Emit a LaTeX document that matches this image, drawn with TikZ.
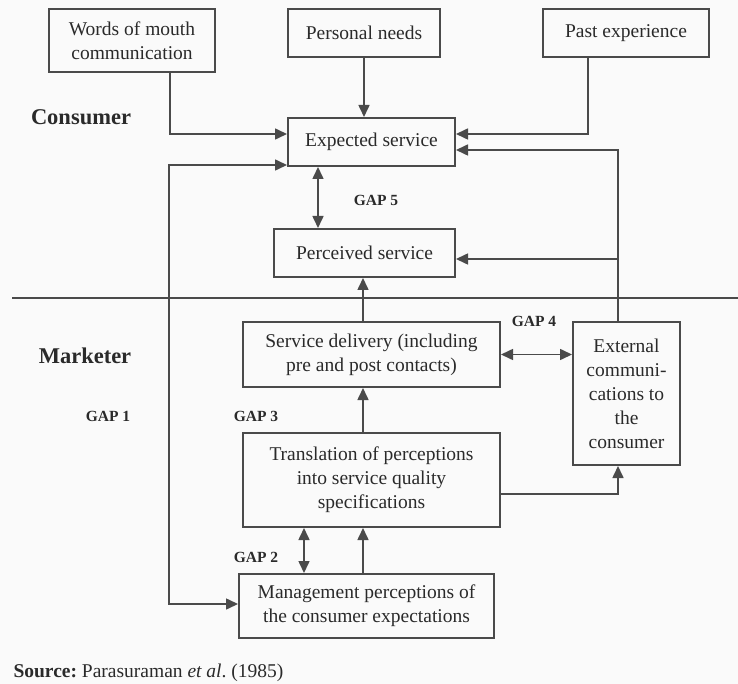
\documentclass[tikz,border=0pt]{standalone}
\usepackage{fontspec}
\setmainfont{Liberation Serif}
\usetikzlibrary{arrows.meta}
\definecolor{linegray}{HTML}{4A4A4A}
\definecolor{textgray}{HTML}{2A2A2A}
\definecolor{paper}{HTML}{FAFAFA}

\begin{document}
\begin{tikzpicture}
  [x=1pt,y=-1pt,
   box/.style={draw=linegray,line width=2pt,align=center,inner sep=2pt,
     font=\fontsize{19.5}{24}\selectfont,text=textgray},
   side/.style={font=\fontsize{22.5}{26}\selectfont\bfseries,text=textgray},
   gap/.style={font=\fontsize{15.5}{18}\selectfont\bfseries,text=textgray},
   arr/.style={draw=linegray,line width=1.6pt,-{Triangle[length=12pt,width=11pt]}},
   dbl/.style={draw=linegray,line width=1.6pt,{Triangle[length=12pt,width=11pt]}-{Triangle[length=12pt,width=11pt]}}]
  \fill[paper] (0,0) rectangle (738,684);
  \useasboundingbox (0,0) rectangle (738,684);
  % consumer side
  \node[box,minimum width=166pt,minimum height=63pt] (wom) at (132,40.5) {Words of mouth\\communication};
  \node[box,minimum width=152pt,minimum height=48pt] (needs) at (364,33) {Personal needs};
  \node[box,minimum width=166pt,minimum height=48pt] (past) at (626,33) {Past experience};
  \node[box,minimum width=167pt,minimum height=48pt] (expected) at (371.5,142) {Expected service};
  \node[box,minimum width=181pt,minimum height=48pt] (perceived) at (364.5,253) {Perceived service};
  % marketer side
  \node[box,minimum width=257pt,minimum height=65pt] (delivery) at (371.5,354.5) {Service delivery (including\\pre and post contacts)};
  \node[box,minimum width=107pt,minimum height=143pt] (external) at (626.5,393.5) {External\\communi-\\cations to\\the\\consumer};
  \node[box,minimum width=257pt,minimum height=94pt] (translation) at (371.5,480) {Translation of perceptions\\into service quality\\specifications};
  \node[box,minimum width=255pt,minimum height=64pt] (mgmt) at (366.5,606) {Management perceptions of\\the consumer expectations};
  % labels
  \node[side] (consumer) at (81,117) {Consumer};
  \node[side] (marketer) at (85,356) {Marketer};
  \node[gap] (gap1) at (108,416) {GAP 1};
  \node[gap] (gap2) at (256,557) {GAP 2};
  \node[gap] (gap3) at (256,416) {GAP 3};
  \node[gap] (gap4) at (534,321) {GAP 4};
  \node[gap] (gap5) at (376,200) {GAP 5};
  \node[anchor=west,font=\fontsize{19.5}{24}\selectfont\frenchspacing,text=textgray] (source) at (10,673)
    {\textbf{Source:} Parasuraman \textit{et al}. (1985)};
  \draw[linegray,line width=2pt] (12,298.5) -- (738,298.5);
  \coordinate (bend1) at (169,165);
  % connectors
  \draw[arr] ([xshift=-46pt]wom.south east) |- ([yshift=8pt]expected.west);
  \draw[arr] (needs.south) -- (needs.south |- expected.north);
  \draw[arr] ([xshift=-38pt]past.south) |- ([yshift=8pt]expected.east);
  \draw[arr] ([xshift=-8.5pt]external.north) |- ([yshift=-8pt]expected.east);
  \draw[arr] ([xshift=-8.5pt]external.north) |- ([yshift=-6pt]perceived.east);
  \draw[dbl] ([xshift=-53.5pt]expected.south) -- ([xshift=-53.5pt]expected.south |- perceived.north);
  \draw[arr] ([xshift=-8.5pt]delivery.north) -- ([xshift=-8.5pt]delivery.north |- perceived.south);
  \draw[dbl] (delivery.east) -- (delivery.east -| external.west);
  \draw[arr] ([xshift=-8.5pt]translation.north) -- ([xshift=-8.5pt]delivery.south);
  \draw[arr] ([yshift=-14pt]translation.east) -| ([xshift=-8.5pt]external.south);
  \draw[dbl] ([xshift=-67.5pt]translation.south) -- ([xshift=-67.5pt]translation.south |- mgmt.north);
  \draw[arr] ([xshift=-3.5pt]mgmt.north) -- ([xshift=-3.5pt]mgmt.north |- translation.south);
  \draw[dbl] ([yshift=-23pt]expected.west) -- (bend1) |- ([yshift=2pt]mgmt.west);
\end{tikzpicture}
\end{document}
